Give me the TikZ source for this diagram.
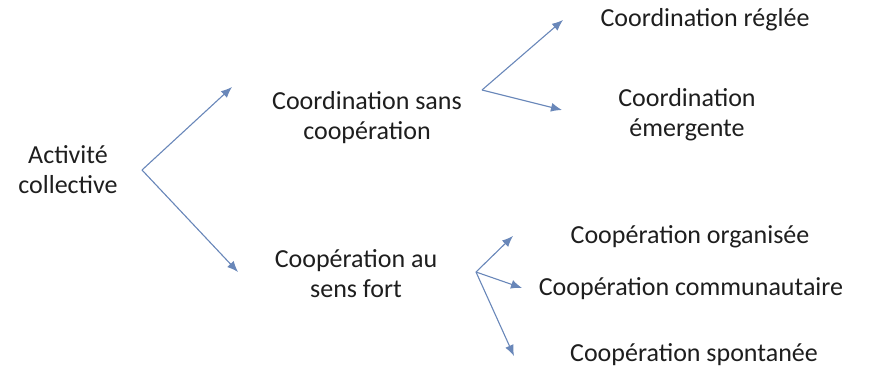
\documentclass[tikz,border=0pt]{standalone}
\usepackage{fontspec}
\setmainfont{Carlito}
\usetikzlibrary{arrows.meta}
\definecolor{arrowblue}{RGB}{105,135,185}
\definecolor{textgray}{RGB}{30,30,30}
\tikzset{
    label/.style={align=center, text=textgray, font=\fontsize{26}{30}\selectfont, inner sep=0pt},
    branch/.style={draw=arrowblue, line width=1.1pt, -{Latex[length=11pt,width=9pt]}}
}

\begin{document}
\begin{tikzpicture}[x=1pt,y=-1pt]
    \useasboundingbox (0,0) rectangle (878,370);
    % nodes
    \node[label] (act) at (68,170) {Activité\\collective};
    \node[label] (css) at (367,118) {Coordination sans\\coopération};
    \node[label] (cpf) at (356,274) {Coopération au\\sens fort};
    \node[label] (creg) at (705,20) {Coordination réglée};
    \node[label] (cem) at (687,115) {Coordination\\émergente};
    \node[label] (corg) at (690,237) {Coopération organisée};
    \node[label] (ccom) at (691,289) {Coopération communautaire};
    \node[label] (cspo) at (694,355) {Coopération spontanée};
    % junctions and arrow ends
    \coordinate (j0) at (142,170);
    \coordinate (j1) at (482,90);
    \coordinate (j2) at (476,272);
    \coordinate (e1) at (232,87);
    \coordinate (e2) at (238,272);
    \coordinate (e3) at (563,20);
    \coordinate (e4) at (562,110);
    \coordinate (e5) at (513,236);
    \coordinate (e6) at (522,288);
    \coordinate (e7) at (514,356);
    % arrows
    \draw[branch] (j0) -- (e1);
    \draw[branch] (j0) -- (e2);
    \draw[branch] (j1) -- (e3);
    \draw[branch] (j1) -- (e4);
    \draw[branch] (j2) -- (e5);
    \draw[branch] (j2) -- (e6);
    \draw[branch] (j2) -- (e7);
\end{tikzpicture}
\end{document}
